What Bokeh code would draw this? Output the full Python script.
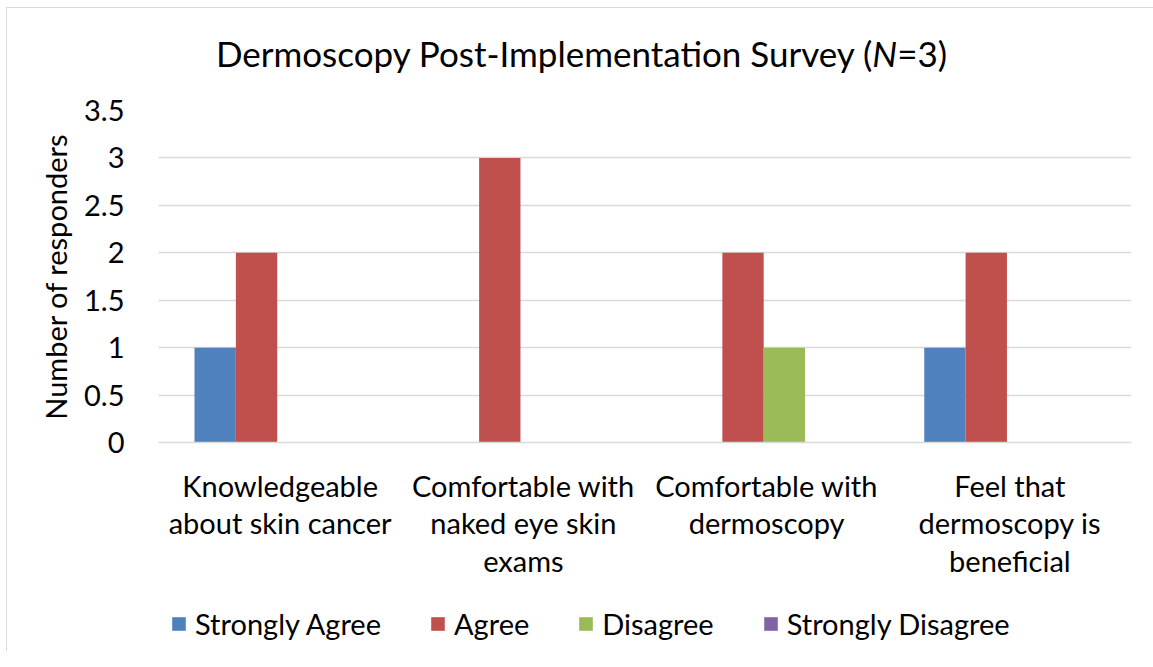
from bokeh.plotting import figure
from bokeh.models import (FactorRange, ColumnDataSource, Legend, LegendItem, Div,
                          FixedTicker, CustomJSTickFormatter)
from bokeh.layouts import column
from bokeh.transform import dodge
from bokeh.embed import file_html
from bokeh.resources import INLINE

categories = ["Knowledgeable\nabout skin cancer",
              "Comfortable with\nnaked eye skin\nexams",
              "Comfortable with\ndermoscopy",
              "Feel that\ndermoscopy is\nbeneficial"]
series_names = ["Strongly Agree", "Agree", "Disagree", "Strongly Disagree"]
strongly_agree = [1, 0, 0, 1]
agree = [2, 3, 2, 2]
disagree = [0, 0, 1, 0]
strongly_disagree = [0, 0, 0, 0]
y_ticks = [0, 0.5, 1, 1.5, 2, 2.5, 3, 3.5]
colors = ["#4F81BD", "#C0504D", "#9BBB59", "#8064A2"]
offsets = [-0.267, -0.097, 0.073, 0.243]

FONT = "Lato"
FS = "29px"

source = ColumnDataSource(dict(cat=categories, sa=strongly_agree, a=agree,
                               d=disagree, sd=strongly_disagree))
cols = ["sa", "a", "d", "sd"]

W = 1137
title_html = ('<div style="width:%dpx;text-align:center;font-family:Lato;font-size:35px;'
              'color:#000;padding-top:15px;padding-left:2px;box-sizing:border-box;">'
              'Dermoscopy Post-Implementation Survey (<i>N</i>=3)</div>' % W)
title = Div(text=title_html, width=W, height=72)

p = figure(x_range=FactorRange(*categories), y_range=(0, 3.5),
           width=W, height=499, output_backend="svg", toolbar_location=None,
           min_border_left=151, min_border_right=13, min_border_top=20,
           min_border_bottom=147)
p.outline_line_color = None
p.x_range.range_padding = 0

for col, off, c in zip(cols, offsets, colors):
    p.vbar(x=dodge("cat", off, range=p.x_range), top=col, width=0.17,
           source=source, fill_color=c, line_color=None)

# axes
p.yaxis.ticker = FixedTicker(ticks=y_ticks)
p.yaxis.formatter = CustomJSTickFormatter(code="return tick.toString()")
p.yaxis.axis_line_color = None
p.yaxis.major_tick_line_color = None
p.yaxis.minor_tick_line_color = None
p.yaxis.major_label_text_font = FONT
p.yaxis.major_label_text_font_size = FS
p.yaxis.major_label_text_color = "#000000"
p.yaxis.major_label_standoff = 28
p.yaxis.axis_label = "Number of responders"
p.yaxis.axis_label_text_font = FONT
p.yaxis.axis_label_text_font_size = "29px"
p.yaxis.axis_label_text_font_style = "normal"
p.yaxis.axis_label_text_color = "#000000"
p.yaxis.axis_label_standoff = 8

p.xaxis.axis_line_color = "#d9d9d9"
p.xaxis.axis_line_width = 1.5
p.xaxis.major_tick_line_color = None
p.xaxis.minor_tick_line_color = None
p.xaxis.major_label_text_font = FONT
p.xaxis.major_label_text_font_size = FS
p.xaxis.major_label_text_color = "#000000"
p.xaxis.major_label_standoff = 19
p.xaxis.major_label_text_line_height = 1.08
p.xaxis.major_label_orientation = "horizontal"

p.xgrid.grid_line_color = None
p.ygrid.grid_line_color = "#d9d9d9"
p.ygrid.grid_line_width = 1.5

# legend strip: same series, drawn out of view so only the legend keys show
lp = figure(x_range=p.x_range, y_range=(100, 101), width=W, height=62,
            output_backend="svg", toolbar_location=None, min_border=0)
lp.axis.visible = False
lp.grid.visible = False
lp.outline_line_color = None
keys = []
for col, off, c in zip(cols, offsets, colors):
    keys.append(lp.vbar(x=dodge("cat", off, range=p.x_range), top=col, width=0.17,
                        source=source, fill_color=c, line_color=None))
legend = Legend(items=[LegendItem(label=n, renderers=[r]) for n, r in zip(series_names, keys)],
                orientation="horizontal", location=(12, 10),
                label_text_font=FONT, label_text_font_size=FS, label_text_color="#000000",
                glyph_width=17, glyph_height=17, label_standoff=8, spacing=48,
                padding=0, margin=0, border_line_color=None, background_fill_alpha=0)
lp.add_layout(legend, "center")

layout = column(title, p, lp, margin=(7, 0, 0, 6), spacing=0,
                styles={"border-left": "1px solid #d9d9d9",
                        "border-top": "1px solid #d9d9d9"})

open("out.html", "w").write(file_html(layout, INLINE))
